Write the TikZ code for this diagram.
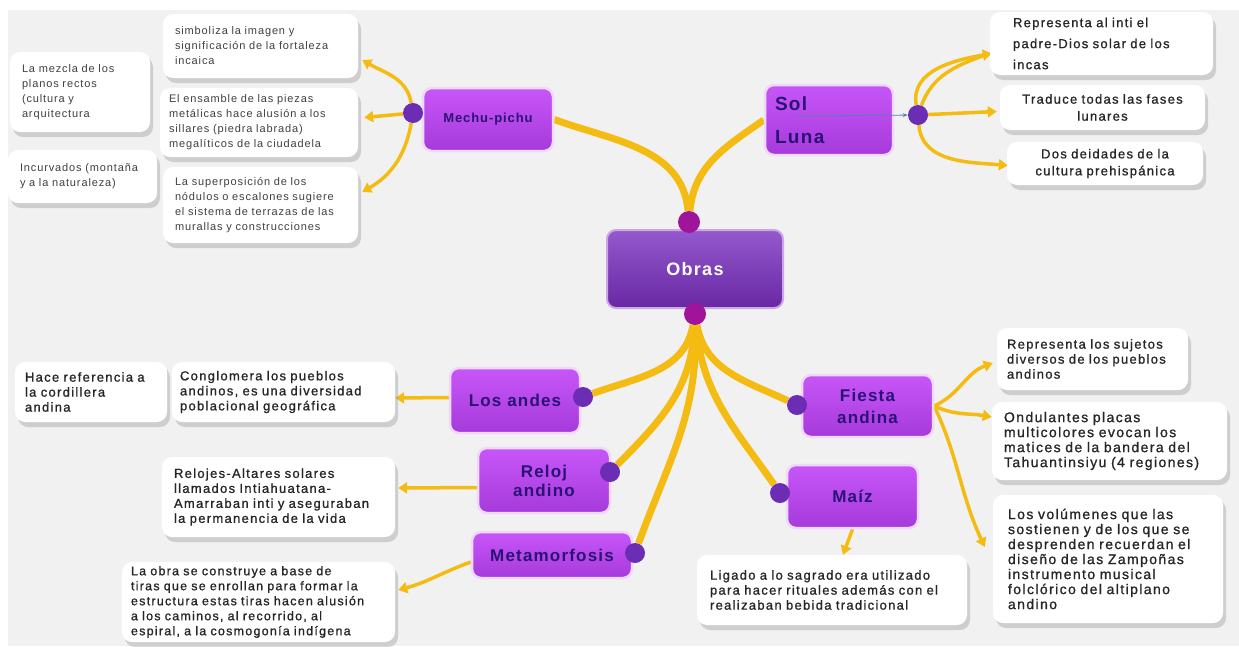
\documentclass[tikz,border=0pt]{standalone}
\usepackage{fontspec}
\setmainfont{Liberation Sans}
\newfontfamily\notafont[LetterSpace=10,FakeBold=1]{Liberation Sans}
\newfontfamily\chicafont[LetterSpace=8]{Liberation Sans}
\newfontfamily\temafont[LetterSpace=7]{Liberation Sans}
\usetikzlibrary{arrows.meta,shadows}
\definecolor{fondo}{HTML}{F1F1F2}
\definecolor{oro}{HTML}{F4BC12}
\definecolor{lila}{HTML}{C756F7}
\definecolor{lilaosc}{HTML}{A63ADB}
\definecolor{borde}{HTML}{EFD9F8}
\definecolor{morado}{HTML}{7A2FC0}
\definecolor{tinta}{HTML}{2B1275}
\definecolor{punto}{HTML}{6C2DB5}
\definecolor{fucsia}{HTML}{A0149C}
\definecolor{azul}{HTML}{5A7FA8}
\pgfdeclarelayer{fondo}
\pgfsetlayers{fondo,main}

\begin{document}
\begin{tikzpicture}[x=1pt, y=1pt,
    tema/.style = {rectangle, rounded corners=9pt,% purple topic boxes
                   top color=lila, bottom color=lilaosc,
                   draw=borde, line width=2.5pt, text=tinta,
                   font=\temafont\bfseries\fontsize{17}{19}\selectfont,
                   align=center, inner sep=2pt},
    raiz/.style = {tema, top color=morado!80!white, bottom color=morado!85!black,
                   draw=borde!70!morado, line width=2pt, text=white,
                   font=\temafont\bfseries\fontsize{18}{20}\selectfont},
    nota/.style = {rectangle, rounded corners=10pt, fill=white,% white notes
                   drop shadow={shadow xshift=3pt, shadow yshift=-5pt, opacity=.3},
                   align=left, text=black!85, inner xsep=12pt, inner ysep=3pt,
                   font=\notafont\fontsize{13}{15}\selectfont},
    ancha/.style = {font=\notafont\fontsize{14}{15}\selectfont},
    chica/.style = {nota, text=black!75,
                   font=\chicafont\fontsize{11}{15}\selectfont},
    bola/.style = {circle, fill=punto, minimum size=20pt, inner sep=0pt},
    rama/.style = {draw=oro, line width=7pt},
    flecha/.style = {draw=oro, line width=3.5pt,
                   -{Triangle[length=9pt,width=11pt]}},
                        ]
\useasboundingbox (0,0) rectangle (1239,-646);
% center
\node[raiz, minimum width=176pt, minimum height=78pt] (obras) at (695,-269) {Obras};
\node[bola, fill=fucsia, minimum size=22pt] (o1) at (689,-222) {};
\node[bola, fill=fucsia, minimum size=22pt] (o2) at (695,-314) {};
% topics
\node[tema, minimum width=130pt, minimum height=63pt,
      font=\temafont\bfseries\fontsize{13}{15}\selectfont] (mechu) at (488,-119.5) {Mechu-pichu};
\node[tema, minimum width=128pt, minimum height=70pt, align=left, text width=108pt,
      font=\temafont\bfseries\fontsize{19}{19}\selectfont] (sol) at (829,-120) {Sol\\[14pt]Luna};
\node[tema, minimum width=130pt, minimum height=65pt] (andes) at (515,-400.5) {Los andes};
\node[tema, minimum width=132pt, minimum height=65pt] (reloj) at (544,-480.5) {Reloj\\andino};
\node[tema, minimum width=160pt, minimum height=46pt] (meta) at (552,-555) {Metamorfosis};
\node[tema, minimum width=131pt, minimum height=62pt] (fiesta) at (867.5,-406) {Fiesta\\[3pt]andina};
\node[tema, minimum width=131pt, minimum height=63pt] (maiz) at (852.5,-496.5) {Maíz};
\foreach \n/\x/\y in {dm/413/-113, ds/918/-115, dl/583/-397, dr/610/-472,
                      dt/635/-553, df/797/-405, dz/780/-493}
    \node[bola] (\n) at (\x,\y) {};
% Mechu-pichu notes
\node[chica, text width=171pt, minimum height=64pt] (m1) at (260.5,-46)
    {simboliza la imagen y\\significación de la fortaleza\\incaica};
\node[chica, text width=180pt, inner xsep=9pt, minimum height=69pt] (m2) at (259,-122.5)
    {El ensamble de las piezas\\metálicas hace alusión a los\\sillares (piedra labrada)\\megalíticos de la ciudadela};
\node[chica, text width=171pt, minimum height=76pt] (m3) at (260.5,-205)
    {La superposición de los\\nódulos o escalones sugiere\\el sistema de terrazas de las\\murallas y construcciones};
\node[chica, text width=116pt, minimum height=80pt] (m4) at (80,-92)
    {La mezcla de los\\planos rectos\\(cultura y\\arquitectura};
\node[chica, text width=125pt, minimum height=53pt] (m5) at (82.5,-176.5)
    {Incurvados (montaña\\y a la naturaleza)};
% Sol / Luna notes
\node[nota, text width=177pt, inner xsep=23pt, minimum height=63pt,
      font=\notafont\fontsize{13}{21}\selectfont] (r1) at (1101.5,-43.5)
    {Representa al inti el\\padre-Dios solar de los\\incas};
\node[nota, text width=185pt, inner xsep=10pt, minimum height=45pt, align=center,
      font=\notafont\fontsize{13}{17}\selectfont] (r2) at (1102.5,-107.5)
    {Traduce todas las fases\\lunares};
\node[nota, text width=176pt, inner xsep=10pt, minimum height=43pt, align=center,
      font=\notafont\fontsize{13}{17}\selectfont] (r3) at (1105,-163.5)
    {Dos deidades de la\\cultura prehispánica};
% lower notes
\node[nota, text width=207pt, inner xsep=8pt, minimum height=60pt] (a1) at (283.5,-392)
    {Conglomera los pueblos\\andinos, es una diversidad\\poblacional geográfica};
\node[nota, text width=132pt, inner xsep=10pt, minimum height=60pt] (a2) at (91,-392)
    {Hace referencia a\\la cordillera\\andina};
\node[nota, text width=209pt, minimum height=80pt] (rt) at (278.5,-497)
    {Relojes-Altares solares\\llamados Intiahuatana-\\Amarraban inti y aseguraban\\la permanencia de la vida};
\node[nota, text width=255pt, inner xsep=9pt, minimum height=80pt,
      font=\notafont\fontsize{12.5}{15}\selectfont] (mt) at (258.5,-602)
    {La obra se construye a base de\\tiras que se enrollan para formar la\\estructura estas tiras hacen alusión\\a los caminos, al recorrido, al\\espiral, a la cosmogonía indígena};
\node[nota, text width=244pt, inner xsep=13pt, minimum height=70pt] (zt) at (832,-590)
    {Ligado a lo sagrado era utilizado\\para hacer rituales además con el\\realizaban bebida tradicional};
\node[nota, text width=171pt, inner xsep=10pt, minimum height=62pt] (f1) at (1092.5,-359)
    {Representa los sujetos\\diversos de los pueblos\\andinos};
\node[nota, ancha, text width=211pt, inner xsep=12pt, minimum height=78pt] (f2) at (1109.5,-441)
    {Ondulantes placas\\multicolores evocan los\\matices de la bandera del\\Tahuantinsiyu (4 regiones)};
\node[nota, ancha, text width=200pt, inner xsep=15pt, minimum height=128pt] (f3) at (1108,-559)
    {Los volúmenes que las\\sostienen y de los que se\\desprenden recuerdan el\\diseño de las Zampoñas\\instrumento musical\\folclórico del altiplano\\andino};

\begin{pgfonlayer}{fondo}
\fill[white] (0,0) rectangle (1239,-646);
\fill[fondo] (8,-10) rectangle (1239,-646);
% branches from Obras
\draw[rama] (o1) to[out=95,in=-20] (mechu.east);
\draw[rama] (o1) to[out=85,in=215] (sol.west);
\draw[rama] (o2) to[out=-100,in=20] (dl);
\draw[rama] (o2) to[out=-92,in=45] (dr);
\draw[rama] (o2) to[out=-88,in=70] (dt);
\draw[rama] (o2) to[out=-80,in=155] (df);
\draw[rama] (o2) to[out=-85,in=125] (dz);
% Mechu-pichu
\draw[flecha] (dm) to[out=100,in=-30] ([shift={(4pt,-14pt)}]m1.east);
\draw[flecha] (dm) -- ([shift={(6pt,5pt)}]m2.east);
\draw[flecha] (dm) to[out=-100,in=30] ([shift={(4pt,13pt)}]m3.east);
% Sol / Luna
\draw[flecha] (ds) to[out=100,in=190] ([shift={(2pt,-10pt)}]r1.west);
\draw[draw=oro, line width=3.5pt] (ds) to[out=70,in=200] ([shift={(-6pt,-12pt)}]r1.west);
\draw[flecha] (ds) -- ([shift={(-3pt,-4pt)}]r2.west);
\draw[flecha] (ds) to[out=-85,in=175] ([shift={(1pt,-2pt)}]r3.west);
% lower topics
\draw[flecha] ([yshift=3pt]andes.west) -- ([yshift=-6pt]a1.east);
\draw[flecha] ([yshift=-7pt]reloj.west) -- ([shift={(3pt,9pt)}]rt.east);
\draw[flecha] ([yshift=-7pt]meta.west) to[out=200,in=15] ([shift={(3pt,12pt)}]mt.east);
\draw[flecha] (maiz.south) -- ([xshift=11pt]zt.north);
\draw[flecha] (fiesta.east) to[out=25,in=200] ([shift={(-4pt,-4pt)}]f1.west);
\draw[flecha] (fiesta.east) to[out=-25,in=170] ([yshift=24pt]f2.west);
\draw[flecha] (fiesta.east) to[out=-65,in=115] ([shift={(-8pt,12pt)}]f3.west);
\end{pgfonlayer}
\draw[azul, line width=0.8pt, -{Stealth[length=5pt]}] ([shift={(-34pt,4pt)}]sol.center) -- (ds);
\end{tikzpicture}
\end{document}
